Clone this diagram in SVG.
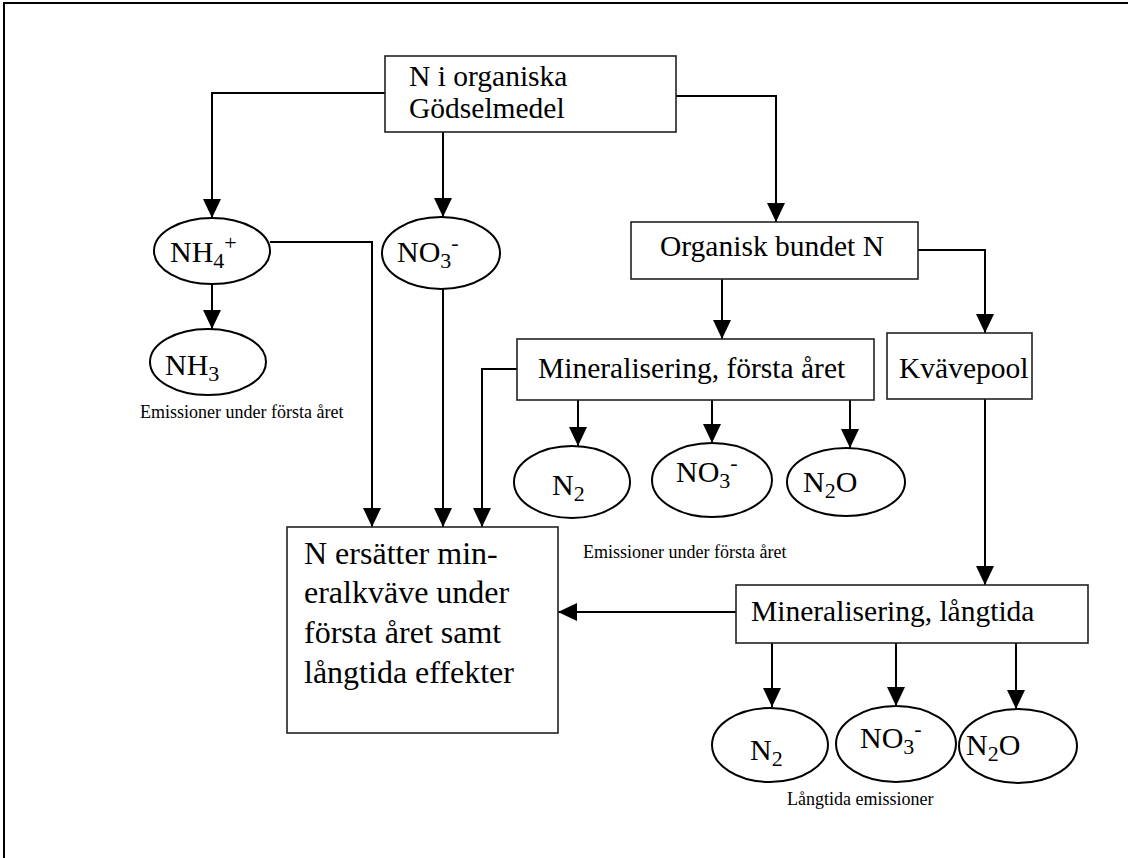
<svg xmlns="http://www.w3.org/2000/svg" width="1128" height="858" viewBox="0 0 1128 858">
<style>
.bx{fill:#fff;stroke:#222;stroke-width:1.6}
.el{fill:#fff;stroke:#000;stroke-width:2}
.t{font-family:"Liberation Serif","Times New Roman",serif;font-size:29.5px;fill:#000}
.big{font-size:32px}
.f{font-size:30px}
.sm{font-family:"Liberation Serif","Times New Roman",serif;font-size:18px;fill:#000}
.sub{font-size:22px}
.c{fill:none;stroke:#000;stroke-width:2}
</style>
<defs>
<marker id="arr" markerUnits="userSpaceOnUse" viewBox="0 0 19 18" markerWidth="19" markerHeight="18" refX="19" refY="9" orient="auto"><path d="M0,0 L19,9 L0,18 z" fill="#000"/></marker>
</defs>
<rect width="1128" height="858" fill="#fff"/>
<path d="M4,858 V3 H1128" fill="none" stroke="#000" stroke-width="2"/>

<g id="connectors">
<path class="c" d="M385,93 H212 V218" marker-end="url(#arr)"/>
<path class="c" d="M443,132 V217" marker-end="url(#arr)"/>
<path class="c" d="M676,96 H776 V222" marker-end="url(#arr)"/>
<path class="c" d="M270,242 H372 V527" marker-end="url(#arr)"/>
<path class="c" d="M443,289 V527" marker-end="url(#arr)"/>
<path class="c" d="M212,284 V329" marker-end="url(#arr)"/>
<path class="c" d="M722,279 V339" marker-end="url(#arr)"/>
<path class="c" d="M918,250 H985 V333" marker-end="url(#arr)"/>
<path class="c" d="M517,369 H482 V527" marker-end="url(#arr)"/>
<path class="c" d="M578,400 V446" marker-end="url(#arr)"/>
<path class="c" d="M712,400 V443" marker-end="url(#arr)"/>
<path class="c" d="M850,400 V448" marker-end="url(#arr)"/>
<path class="c" d="M985,399 V585" marker-end="url(#arr)"/>
<path class="c" d="M736,612 H558" marker-end="url(#arr)"/>
<path class="c" d="M772,643 V707" marker-end="url(#arr)"/>
<path class="c" d="M896,643 V706" marker-end="url(#arr)"/>
<path class="c" d="M1016,643 V709" marker-end="url(#arr)"/>
</g>

<g id="n-top">
<rect class="bx" x="385" y="56" width="291" height="76"/>
<text class="t" x="409" y="86">N i organiska</text>
<text class="t" x="409" y="118">Gödselmedel</text>
</g>

<g id="n-nh4">
<ellipse class="el" cx="212" cy="251" rx="58" ry="33"/>
<text class="t f" x="170" y="262">NH<tspan class="sub" dy="6">4</tspan><tspan class="sub" dy="-18">+</tspan></text>
</g>

<g id="n-no3a">
<ellipse class="el" cx="441" cy="253" rx="59" ry="36"/>
<text class="t f" x="397" y="262">NO<tspan class="sub" dy="6">3</tspan><tspan class="sub" dy="-18">-</tspan></text>
</g>

<g id="n-nh3">
<ellipse class="el" cx="208" cy="362" rx="58" ry="33"/>
<text class="t f" x="165" y="375">NH<tspan class="sub" dy="6">3</tspan></text>
</g>

<g id="lbl-em1">
<text class="sm" x="140" y="418">Emissioner under första året</text>
</g>

<g id="n-org">
<rect class="bx" x="631" y="222" width="287" height="57"/>
<text class="t" x="772" y="256" text-anchor="middle">Organisk bundet N</text>
</g>

<g id="n-min1">
<rect class="bx" x="517" y="339" width="357" height="61"/>
<text class="t" x="538" y="378">Mineralisering, första året</text>
</g>

<g id="n-kv">
<rect class="bx" x="887" y="333" width="145" height="66"/>
<text class="t" x="899" y="378">Kvävepool</text>
</g>

<g id="n-n2a">
<ellipse class="el" cx="572" cy="482" rx="58" ry="36"/>
<text class="t f" x="552" y="495">N<tspan class="sub" dy="6">2</tspan></text>
</g>

<g id="n-no3b">
<ellipse class="el" cx="712" cy="480" rx="60" ry="37"/>
<text class="t f" x="676" y="482">NO<tspan class="sub" dy="6">3</tspan><tspan class="sub" dy="-18">-</tspan></text>
</g>

<g id="n-n2oa">
<ellipse class="el" cx="846" cy="482" rx="59" ry="34"/>
<text class="t f" x="803" y="492">N<tspan class="sub" dy="6">2</tspan><tspan dy="-6">O</tspan></text>
</g>

<g id="lbl-em2">
<text class="sm" x="583" y="558">Emissioner under första året</text>
</g>

<g id="n-ers">
<rect class="bx" x="287" y="527" width="271" height="206"/>
<text class="t big" x="304" y="564">N ersätter min-</text>
<text class="t big" x="304" y="603">eralkväve under</text>
<text class="t big" x="304" y="643">första året samt</text>
<text class="t big" x="304" y="683">långtida effekter</text>
</g>

<g id="n-min2">
<rect class="bx" x="736" y="585" width="352" height="58"/>
<text class="t" x="751" y="621">Mineralisering, långtida</text>
</g>

<g id="n-n2b">
<ellipse class="el" cx="770" cy="745" rx="58" ry="37"/>
<text class="t f" x="750" y="760">N<tspan class="sub" dy="6">2</tspan></text>
</g>

<g id="n-no3c">
<ellipse class="el" cx="896" cy="744" rx="60" ry="38"/>
<text class="t f" x="860" y="748">NO<tspan class="sub" dy="6">3</tspan><tspan class="sub" dy="-18">-</tspan></text>
</g>

<g id="n-n2ob">
<ellipse class="el" cx="1018" cy="746" rx="59" ry="37"/>
<text class="t f" x="966" y="755">N<tspan class="sub" dy="6">2</tspan><tspan dy="-6">O</tspan></text>
</g>

<g id="lbl-em3">
<text class="sm" x="787" y="805">Långtida emissioner</text>
</g>
</svg>
